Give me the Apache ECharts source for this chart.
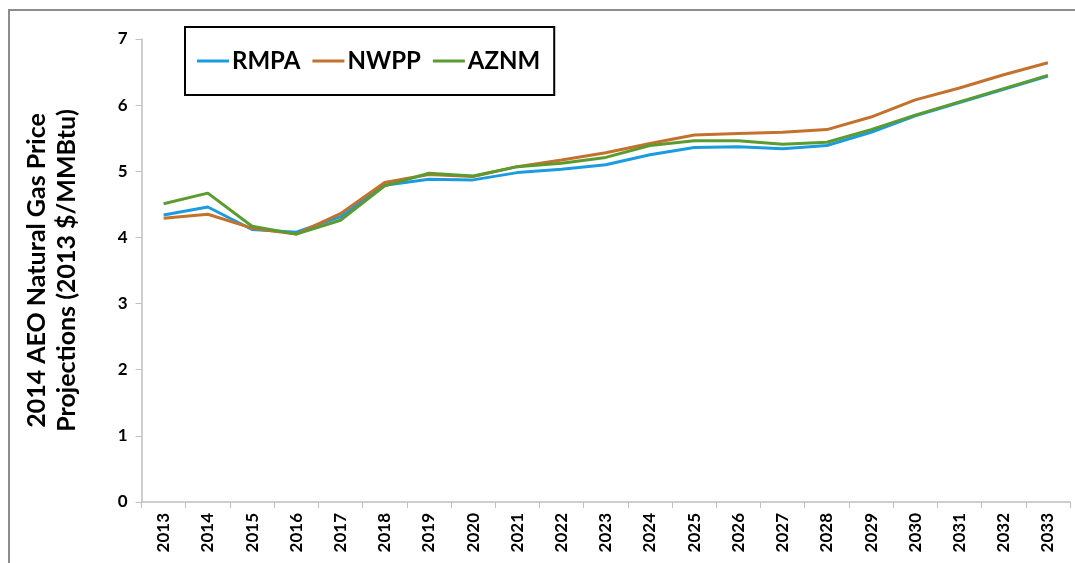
<!DOCTYPE html>
<html>
<head>
<meta charset="utf-8">
<script src="https://cdn.jsdelivr.net/npm/echarts@6/dist/echarts.min.js"></script>
<style>
    html, body { margin: 0; padding: 0; background: #fff; }
    #frame { position: absolute; left: 8px; top: 9px; width: 1100px; height: 600px;
             border-left: 2px solid #8c8c8c; border-top: 2px solid #8c8c8c; }
    #chart { position: absolute; left: 0; top: 0; width: 1075px; height: 563px; }
</style>
</head>
<body>
<div id="frame"></div>
<div id="chart"></div>
<script>
    // --- Data ---
    const years = ['2013', '2014', '2015', '2016', '2017', '2018', '2019', '2020', '2021', '2022', '2023',
        '2024', '2025', '2026', '2027', '2028', '2029', '2030', '2031', '2032', '2033'];
    const rmpa = [4.34, 4.46, 4.12, 4.08, 4.31, 4.79, 4.88, 4.87, 4.98, 5.03, 5.10,
        5.25, 5.36, 5.37, 5.34, 5.39, 5.59, 5.84, 6.04, 6.24, 6.44];
    const nwpp = [4.29, 4.35, 4.14, 4.05, 4.36, 4.83, 4.95, 4.92, 5.07, 5.17, 5.28,
        5.42, 5.55, 5.57, 5.59, 5.63, 5.82, 6.08, 6.26, 6.46, 6.64];
    const aznm = [4.51, 4.67, 4.17, 4.05, 4.26, 4.78, 4.97, 4.93, 5.07, 5.12, 5.21,
        5.39, 5.46, 5.46, 5.41, 5.44, 5.63, 5.85, 6.05, 6.25, 6.45];
    const yTitle = '2014 AEO Natural Gas Price\nProjections (2013 $/MMBtu)';

    const FONT = 'Lato, "Open Sans", sans-serif';
    const AXIS_GRAY = '#bfbfbf';

    const chart = echarts.init(document.getElementById('chart'), null, { renderer: 'canvas' });

    function line(name, data, color) {
        return {
            name, type: 'line', data,
            showSymbol: false, symbol: 'none', animation: false,
            lineStyle: { width: 3, color },
            itemStyle: { color },
        };
    }

    chart.setOption({
        animation: false,
        grid: { left: 141.5, right: 5, top: 39, bottom: 61 },
        legend: {
            left: 185, top: 27,
            padding: [22, 14, 22, 12],
            borderColor: '#000', borderWidth: 2,
            itemGap: 12, itemWidth: 32, itemHeight: 3, icon: 'rect',
            textStyle: { fontFamily: FONT, fontWeight: 'bold', fontSize: 24, color: '#000', padding: [0, 0, 0, -2] },
            data: ['RMPA', 'NWPP', 'AZNM'],
        },
        xAxis: {
            type: 'category', data: years, boundaryGap: true,
            axisLine: { lineStyle: { color: AXIS_GRAY, width: 1.5 } },
            axisTick: { show: true, alignWithLabel: false, length: 6, lineStyle: { color: AXIS_GRAY } },
            axisLabel: {
                rotate: 90, margin: 11, interval: 0,
                fontFamily: FONT, fontWeight: 'bold', fontSize: 17, color: '#000',
            },
        },
        yAxis: {
            type: 'value', min: 0, max: 7, interval: 1,
            name: yTitle, nameLocation: 'middle', nameGap: 60,
            nameTextStyle: { fontFamily: FONT, fontWeight: 'bold', fontSize: 25, color: '#000', lineHeight: 30 },
            axisLine: { show: true, lineStyle: { color: AXIS_GRAY, width: 1.5 } },
            axisTick: { show: true, length: 6, lineStyle: { color: AXIS_GRAY } },
            splitLine: { show: false },
            axisLabel: { margin: 14, fontFamily: FONT, fontWeight: 'bold', fontSize: 17, color: '#000' },
        },
        series: [
            line('RMPA', rmpa, '#1b9be0'),
            line('NWPP', nwpp, '#c3712c'),
            line('AZNM', aznm, '#5b9b30'),
        ],
    });
</script>
</body>
</html>
